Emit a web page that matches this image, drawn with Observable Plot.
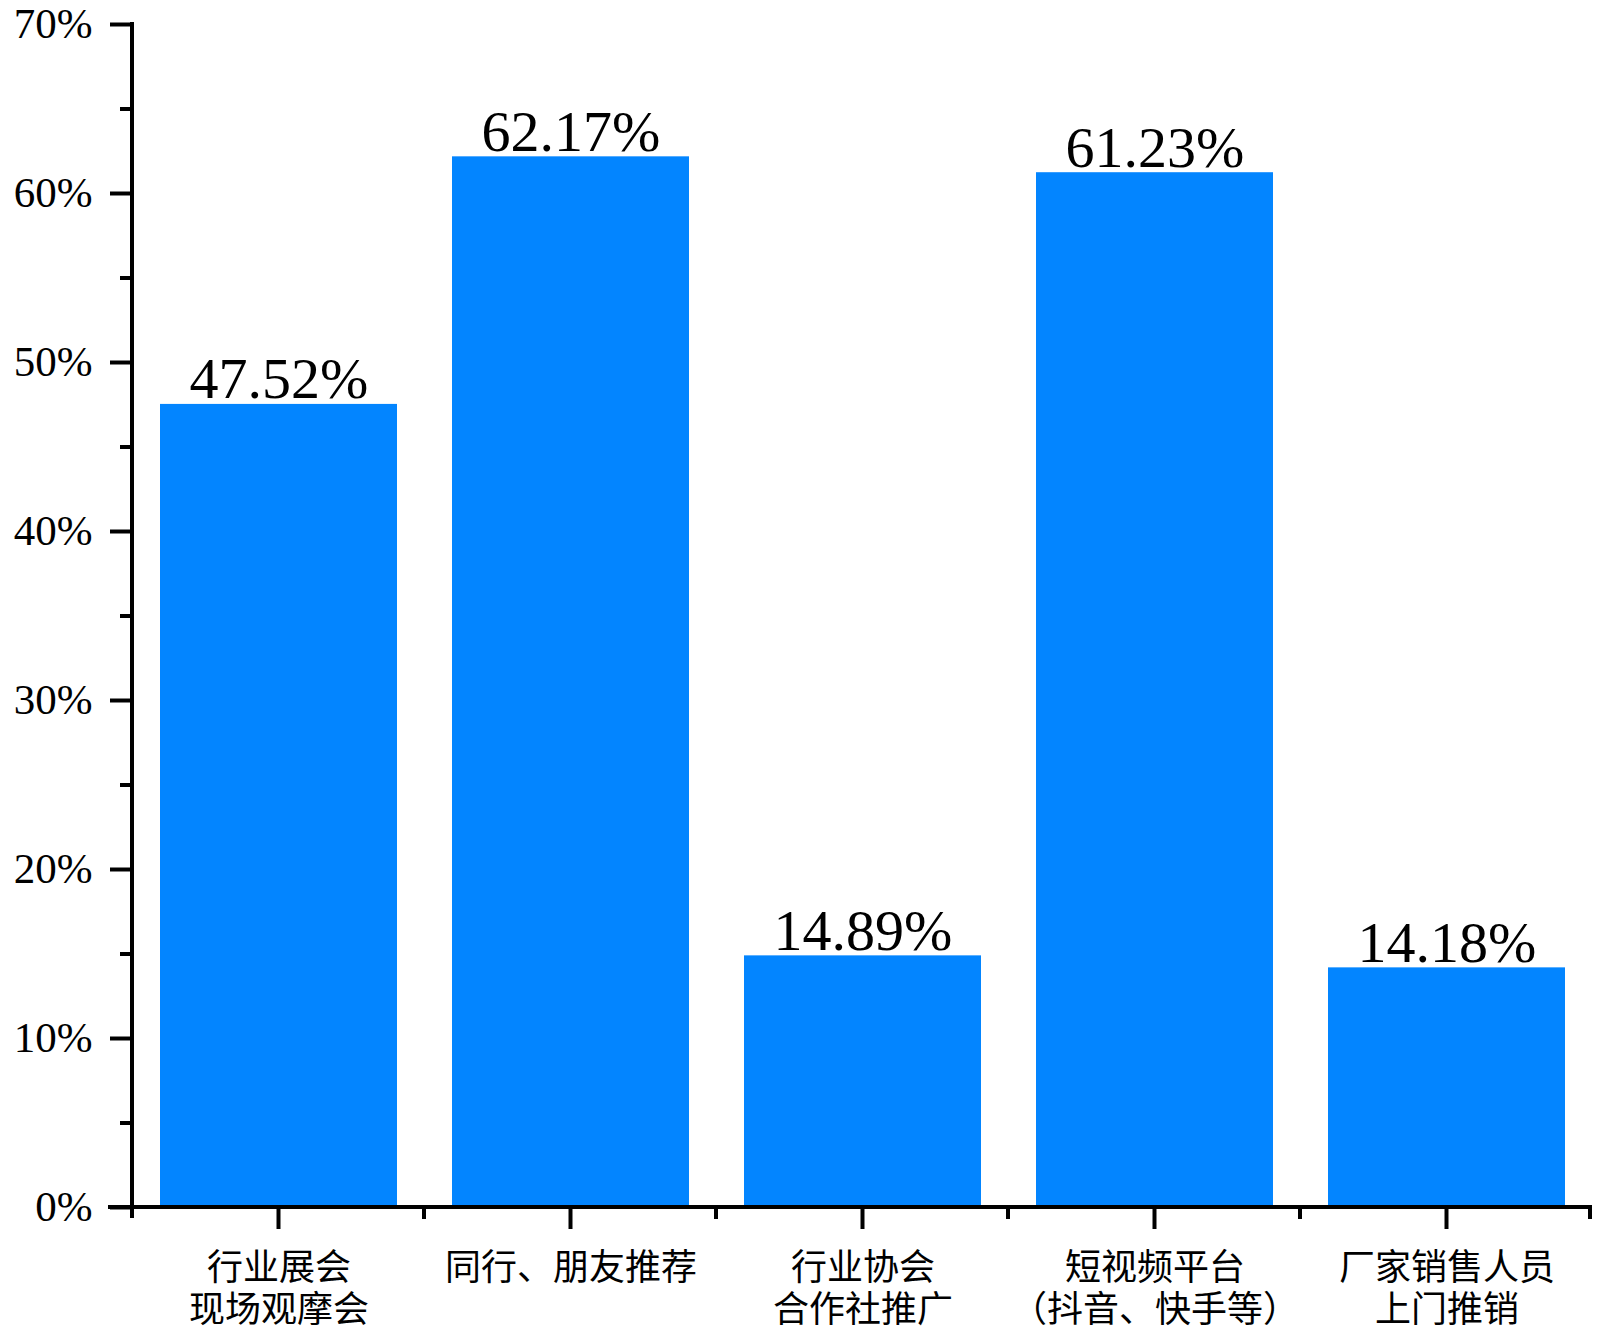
<!DOCTYPE html>
<html>
<head>
<meta charset="utf-8">
<script src="https://cdn.jsdelivr.net/npm/d3@7"></script>
<script src="https://cdn.jsdelivr.net/npm/@observablehq/plot@0.6"></script>
<style>
  html, body { margin: 0; padding: 0; background: #fff; }
  #chart svg { display: block; }
</style>
</head>
<body>
<div id="chart"></div>
<script>
const categories = ["行业展会\n现场观摩会", "同行、朋友推荐", "行业协会\n合作社推广", "短视频平台\n（抖音、快手等）", "厂家销售人员\n上门推销"];
const values = [47.52, 62.17, 14.89, 61.23, 14.18];
const yTicks = [0, 10, 20, 30, 40, 50, 60, 70];
const yTickLabels = ["0%", "10%", "20%", "30%", "40%", "50%", "60%", "70%"];
const yMinorTicks = [5, 15, 25, 35, 45, 55, 65];

const data = categories.map((c, i) => ({category: c, value: values[i]}));

const W = 1600, H = 1337;
const mL = 132, mR = 8, mT = 24, mB = 130;
const step = (W - mL - mR) / categories.length;
const blue = "#0385ff";
const serif = "'Liberation Serif', 'Times New Roman', serif";
const cjk = "'Noto Sans CJK SC', sans-serif";

const chart = Plot.plot({
  width: W,
  height: H,
  marginLeft: mL,
  marginRight: mR,
  marginTop: mT,
  marginBottom: mB,
  x: {domain: categories, paddingInner: 0.19, paddingOuter: 0.095, axis: null},
  y: {domain: [0, 70], axis: null},
  marks: [
    Plot.barY(data, {x: "category", y: "value", fill: blue}),
    Plot.text(data, {
      x: "category", y: "value",
      text: d => d.value.toFixed(2) + "%",
      lineAnchor: "bottom", dy: -6,
      fontSize: 58, fontFamily: serif, fill: "#000"
    }),
    Plot.axisY(yTicks, {
      tickSize: 22, tickPadding: 18, strokeWidth: 4,
      tickFormat: (d, i) => yTickLabels[i],
      fontSize: 43, fontFamily: serif, color: "#000", label: null
    }),
    Plot.axisY(yMinorTicks, {tickSize: 12, strokeWidth: 4, text: null, label: null}),
    Plot.text(data, {
      x: "category", y: 0, text: "category",
      lineAnchor: "top", lineHeight: 42 / 36, dy: 43,
      fontSize: 36, fontFamily: cjk, fill: "#000"
    })
  ]
});

document.getElementById("chart").appendChild(chart);

const xs = chart.scale("x");
const ys = chart.scale("y");
const svg = d3.select(chart);
const g = svg.append("g").attr("stroke", "#000").attr("stroke-width", 4).attr("fill", "none");
const y0 = ys.apply(0);
const yTop = ys.apply(70);
const xLeft = mL, xRight = W - mR;
g.append("line").attr("x1", xLeft - 24).attr("x2", xRight).attr("y1", y0).attr("y2", y0);
g.append("line").attr("x1", xLeft).attr("x2", xLeft).attr("y1", yTop - 2).attr("y2", y0 + 11);
categories.forEach(c => {
  const cx = xs.apply(c) + xs.bandwidth / 2;
  g.append("line").attr("x1", cx).attr("x2", cx).attr("y1", y0).attr("y2", y0 + 22);
});
d3.range(1, categories.length + 1).forEach(i => {
  const bx = xLeft + i * step;
  const xx = i === categories.length ? bx - 2 : bx;
  g.append("line").attr("x1", xx).attr("x2", xx).attr("y1", y0).attr("y2", y0 + 12);
});
</script>
</body>
</html>
